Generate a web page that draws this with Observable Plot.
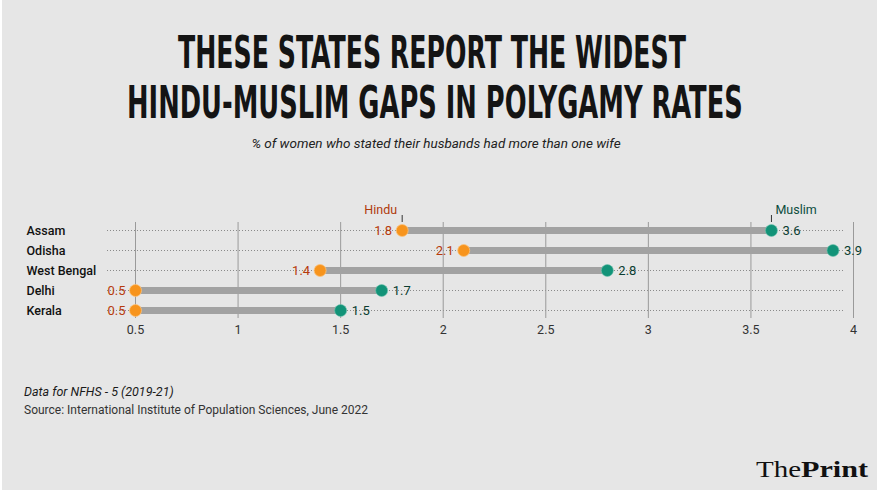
<!DOCTYPE html>
<html>
<head>
<meta charset="utf-8">
<script src="https://cdn.jsdelivr.net/npm/d3@7"></script>
<script src="https://cdn.jsdelivr.net/npm/@observablehq/plot@0.6"></script>
<style>
  html, body { margin: 0; padding: 0; background: #ffffff; }
  #page { position: relative; width: 880px; height: 495px; overflow: hidden; font-family: Roboto, "Noto Sans", sans-serif; }
  #bg { position: absolute; left: 2px; top: 0; width: 875px; height: 490px; background: #e6e6e6; }
  #head { position: absolute; left: 0; top: 0; }
  #chart { position: absolute; left: 0; top: 195px; }
  #foot { position: absolute; left: 0; top: 370px; }
</style>
</head>
<body>
<div id="page">
  <div id="bg"></div>
  <svg id="head" width="880" height="170" xmlns="http://www.w3.org/2000/svg">
    <text class="ttl" data-left="178" data-width="508" y="68" font-family="'DejaVu Sans Condensed', 'DejaVu Sans', sans-serif" font-weight="bold" font-size="45" fill="#141414">THESE STATES REPORT THE WIDEST</text>
    <text class="ttl" data-left="127" data-width="616" y="118" font-family="'DejaVu Sans Condensed', 'DejaVu Sans', sans-serif" font-weight="bold" font-size="45" fill="#141414">HINDU-MUSLIM GAPS IN POLYGAMY RATES</text>
    <text x="436" y="148" text-anchor="middle" font-family="Roboto, sans-serif" font-style="italic" font-size="13.5" fill="#222">% of women who stated their husbands had more than one wife</text>
  </svg>
  <div id="chart"></div>
  <svg id="foot" width="880" height="125" xmlns="http://www.w3.org/2000/svg">
    <text x="24" y="26" font-family="Roboto, sans-serif" font-style="italic" font-size="12.5" fill="#1a1a1a">Data for NFHS - 5 (2019-21)</text>
    <text x="24" y="44" font-family="Roboto, sans-serif" font-size="12" fill="#333">Source: International Institute of Population Sciences, June 2022</text>
    <text x="756" y="107" font-family="'Liberation Serif', 'DejaVu Serif', serif" font-size="24" fill="#111" textLength="45" lengthAdjust="spacingAndGlyphs">The</text>
    <text x="801" y="107" font-family="'Liberation Serif', 'DejaVu Serif', serif" font-weight="bold" font-size="24" fill="#111" textLength="67" lengthAdjust="spacingAndGlyphs">Print</text>
  </svg>
</div>
<script>
const states = ["Assam", "Odisha", "West Bengal", "Delhi", "Kerala"];
const hindu  = [1.8, 2.1, 1.4, 0.5, 0.5];
const muslim = [3.6, 3.9, 2.8, 1.7, 1.5];
const xTicks = [0.5, 1, 1.5, 2, 2.5, 3, 3.5, 4];

// fit condensed title lines to the reference width with a horizontal scale
document.querySelectorAll("#head .ttl").forEach(t => {
  const w = t.getComputedTextLength();
  const left = +t.dataset.left, target = +t.dataset.width;
  const y = t.getAttribute("y");
  t.removeAttribute("y");
  t.setAttribute("x", 0);
  t.setAttribute("y", 0);
  t.setAttribute("transform", `translate(${left},${y}) scale(${target / w},1)`);
});

const rows = states.map((s, i) => ({state: s, hindu: hindu[i], muslim: muslim[i]}));
const first = [rows[0]];

const chart = Plot.plot({
  width: 880,
  height: 153,
  marginLeft: 135,
  marginRight: 27,
  marginTop: 27,
  marginBottom: 30,
  style: {background: "transparent", fontFamily: "Roboto, sans-serif"},
  x: {domain: [0.5, 4], ticks: xTicks},
  y: {type: "point", domain: states, range: [35, 115], padding: 0},
  marks: [
    Plot.gridY({stroke: "#8a8a8a", strokeOpacity: 1, strokeDasharray: "1,2", insetLeft: -28, insetRight: 8}),
    Plot.gridX(xTicks, {stroke: "#9a9a9a", strokeOpacity: 1, strokeWidth: 1}),
    Plot.axisX(xTicks, {tickSize: 0, tickPadding: 7, fontSize: 12.5, fill: "#333", tickFormat: d => String(d), label: null}),
    Plot.axisY({tickSize: 0, tickPadding: 0, textAnchor: "start", dx: -109, fontSize: 12.5, fontWeight: 500, fill: "#111", label: null}),
    Plot.link(rows, {x1: "hindu", x2: "muslim", y1: "state", y2: "state", stroke: "#a2a2a2", strokeWidth: 7}),
    Plot.dot(rows, {x: "hindu", y: "state", r: 6, fill: "#f7941d", stroke: "#fbc27a", strokeWidth: 0.8}),
    Plot.dot(rows, {x: "muslim", y: "state", r: 6, fill: "#129378", stroke: "#6fc2ae", strokeWidth: 0.6}),
    Plot.text(rows, {x: "hindu", y: "state", text: d => String(d.hindu), dx: -10, textAnchor: "end", fontSize: 13, fill: "#b63b0c"}),
    Plot.text(rows, {x: "muslim", y: "state", text: d => String(d.muslim), dx: 11, textAnchor: "start", fontSize: 13, fill: "#0b3d31"}),
    Plot.ruleX(first, {x: "hindu", y1: "state", y2: "state", stroke: "#333", strokeWidth: 1, insetTop: -15, insetBottom: 8}),
    Plot.ruleX(first, {x: "muslim", y1: "state", y2: "state", stroke: "#333", strokeWidth: 1, insetTop: -15, insetBottom: 8}),
    Plot.text(first, {x: "hindu", y: "state", text: () => "Hindu", dx: -5, dy: -21, textAnchor: "end", fontSize: 12.5, fill: "#b03a0c"}),
    Plot.text(first, {x: "muslim", y: "state", text: () => "Muslim", dx: 4, dy: -21, textAnchor: "start", fontSize: 12.5, fill: "#0c4d3d"})
  ]
});
document.getElementById("chart").appendChild(chart);
</script>
</body>
</html>
